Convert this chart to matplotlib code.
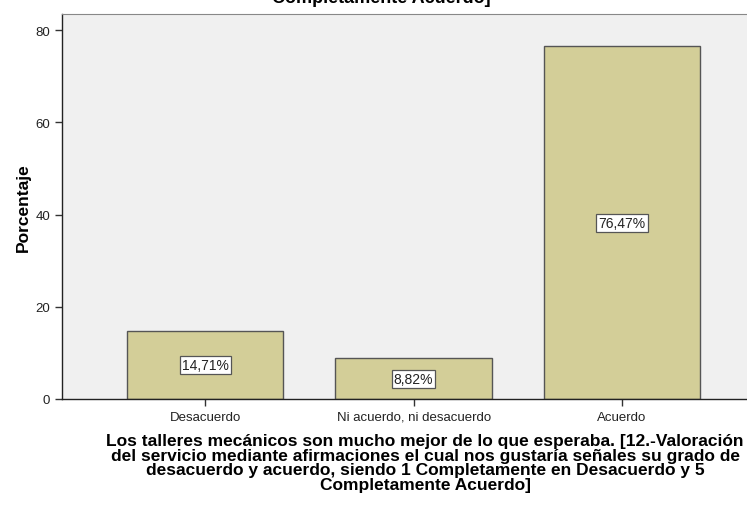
import numpy as np
import matplotlib.pyplot as plt

plt.rcParams['font.family'] = ['Liberation Sans', 'DejaVu Sans']

# Datos
categorias = ['Desacuerdo', 'Ni acuerdo, ni desacuerdo', 'Acuerdo']
porcentajes = [14.71, 8.82, 76.47]
etiquetas = ['14,71%', '8,82%', '76,47%']
y_ticks = [0, 20, 40, 60, 80]

titulo_x = ('Los talleres mecánicos son mucho mejor de lo que esperaba. [12.-Valoración\n'
            'del servicio mediante afirmaciones el cual nos gustaría señales su grado de\n'
            'desacuerdo y acuerdo, siendo 1 Completamente en Desacuerdo y 5\n'
            'Completamente Acuerdo]')

fig = plt.figure(figsize=(7.47, 5.10), dpi=100)
ax = fig.add_axes([62/747, 110/510, (747-62)/747, (400-15)/510])
ax.set_facecolor('#F0F0F0')

x = np.arange(len(categorias))
ax.bar(x, porcentajes, width=0.75, color='#D3CE98', edgecolor='#555555', linewidth=1.0, zorder=2)

# etiquetas en el centro de cada barra
for xi, v, t in zip(x, porcentajes, etiquetas):
    ax.text(xi, v / 2, t, ha='center', va='center', fontsize=10, color='#222222', zorder=3,
            bbox=dict(boxstyle='square,pad=0.15', facecolor='white', edgecolor='#555555', linewidth=0.9))

ax.set_xlim(-0.6875, 2.6)
ax.set_ylim(0, 83.5)
ax.set_yticks(y_ticks)
ax.set_xticks(x)
ax.set_xticklabels(categorias)
ax.tick_params(axis='both', direction='out', length=5, width=1, colors='#333333', labelsize=9.5,
               labelcolor='#222222')

for s in ['left', 'bottom']:
    ax.spines[s].set_color('#222222')
    ax.spines[s].set_linewidth(1)
ax.spines['top'].set_color('#888888')
ax.spines['right'].set_visible(False)

ax.set_ylabel('Porcentaje', fontsize=12.5, fontweight='bold', labelpad=3)

fig.text(0.569, 0.149, titulo_x, ha='center', va='top', fontsize=12.5, fontweight='bold',
         linespacing=0.97)

# título recortado arriba
fig.text(0.511, 0.994, 'Completamente Acuerdo]', ha='center', va='baseline', fontsize=13,
         fontweight='bold')

fig.savefig('out.png', dpi=100)
